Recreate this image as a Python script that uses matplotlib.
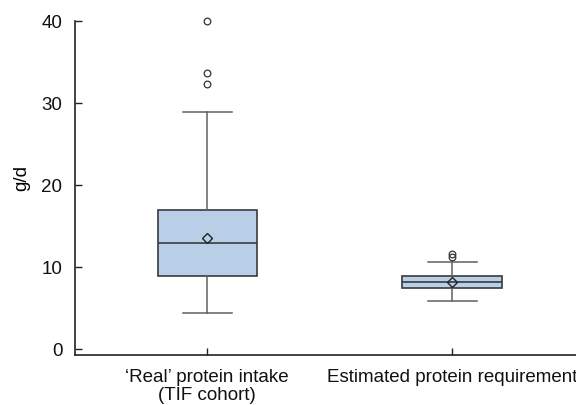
import matplotlib
matplotlib.use("Agg")
import matplotlib.pyplot as plt

categories = ["\u2018Real\u2019 protein intake\n(TIF cohort)", "Estimated protein requirement"]
q1 = [8.9, 7.5]
medians = [13.0, 8.2]
q3 = [17.0, 8.9]
means = [13.5, 8.25]
whisker_low = [4.4, 5.9]
whisker_high = [28.9, 10.65]
outliers = [[32.3, 33.7, 40.0], [11.25, 11.65]]
y_ticks = [0, 10, 20, 30, 40]

plt.rcParams['font.family'] = ['Liberation Sans', 'DejaVu Sans']

fig = plt.figure(figsize=(5.76, 4.05), dpi=100)
ax = fig.add_axes([0.130, 0.123, 0.870, 0.825])

stats = []
for i in range(len(categories)):
    stats.append(dict(q1=q1[i], med=medians[i], q3=q3[i], mean=means[i],
                      whislo=whisker_low[i], whishi=whisker_high[i],
                      fliers=outliers[i], label=categories[i]))

edge = '#3a3a3a'
wc = '#606060'
res = ax.bxp(stats, positions=[1, 2], widths=0.405, showmeans=True, patch_artist=True,
       boxprops=dict(facecolor='#b9cfe7', edgecolor=edge, linewidth=1.2),
       medianprops=dict(color=edge, linewidth=1.2),
       whiskerprops=dict(color=wc, linewidth=1.1),
       capprops=dict(color=wc, linewidth=1.1),
       capwidths=0.2,
       meanprops=dict(marker='D', markersize=5.5, markerfacecolor='none',
                      markeredgecolor='#222222', markeredgewidth=1.0),
       flierprops=dict(marker='o', markersize=4.8, markerfacecolor='none',
                       markeredgecolor='#333333', markeredgewidth=0.9))
for f in res['fliers']:
    f.set_clip_on(False)

ax.set_xlim(0.46, 2.506)
ax.set_ylim(-0.73, 40.0)
ax.set_yticks(y_ticks)
ax.set_xticks([1, 2])
ax.set_xticklabels(categories)
ax.set_ylabel('g/d', fontsize=13.5)
ax.yaxis.set_label_coords(-0.09, 0.53)

for s in ['top', 'right']:
    ax.spines[s].set_visible(False)
for s in ['left', 'bottom']:
    ax.spines[s].set_linewidth(1.2)
    ax.spines[s].set_color('#222222')
ax.tick_params(axis='both', direction='in', length=5, width=1.0, colors='#222222',
               labelsize=13.5, labelcolor='#111111')
ax.tick_params(axis='y', pad=9)
ax.tick_params(axis='x', pad=10)
for lbl in ax.get_xticklabels():
    lbl.set_linespacing(1.05)

fig.savefig('out.png', dpi=100)
